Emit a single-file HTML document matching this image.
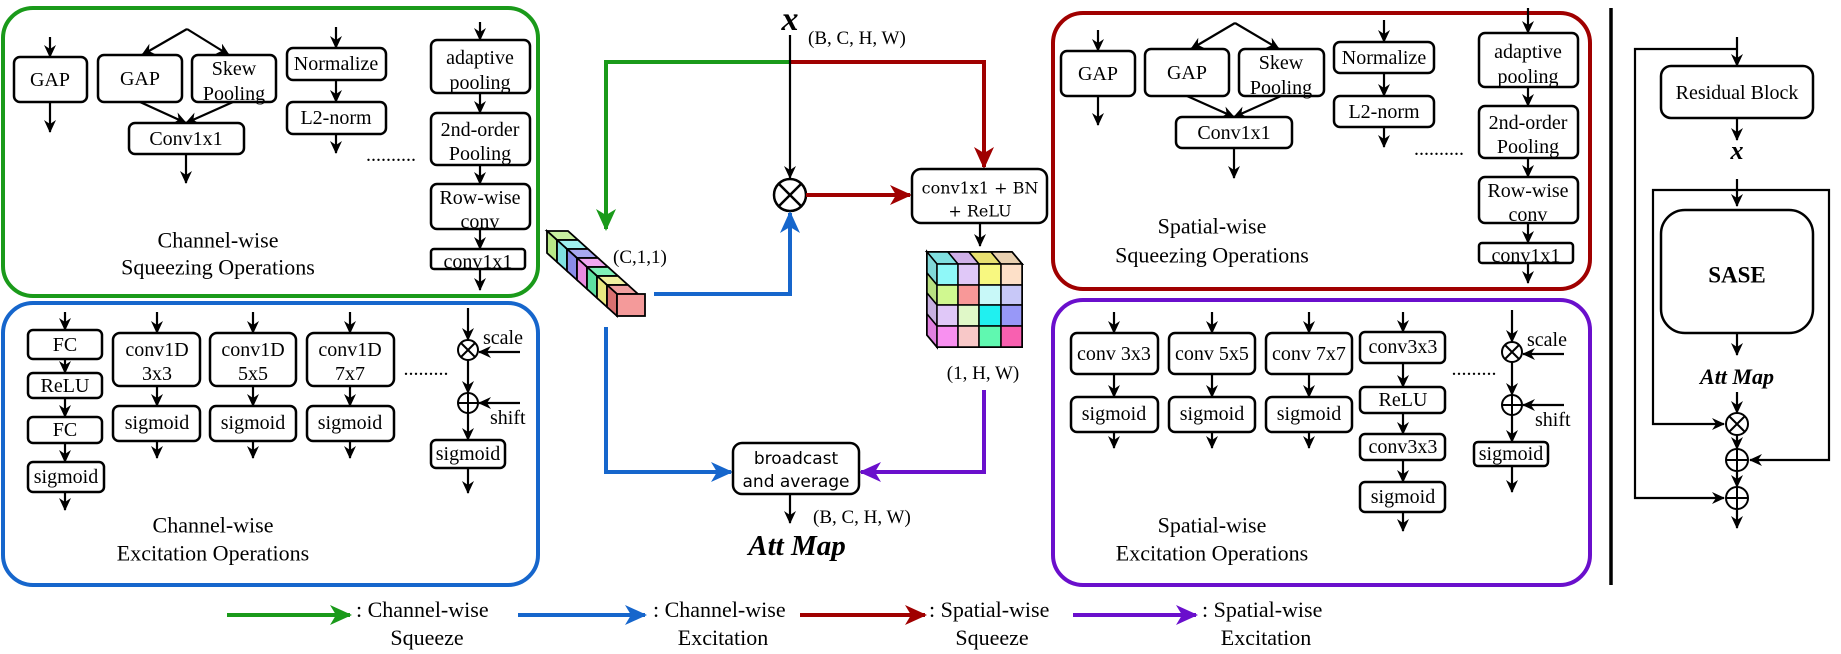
<!DOCTYPE html>
<html><head><meta charset="utf-8"><style>
html,body{margin:0;padding:0;background:#fff;}
svg{display:block;font-family:'Liberation Serif','Times New Roman',serif;}
svg text{font-family:'Liberation Serif','Times New Roman',serif;fill:#000;}
svg text.ds{font-family:'DejaVu Serif',serif;}
svg text.dsa{font-family:'DejaVu Sans',sans-serif;}
.t{font-size:20px;text-anchor:middle;dominant-baseline:central;}
.lab{font-size:22px;text-anchor:middle;dominant-baseline:central;}
.b{fill:#fff;stroke:#000;stroke-width:2.5;}
.a{stroke:#000;stroke-width:2.2;fill:none;marker-end:url(#ak);}
.l{stroke:#000;stroke-width:2.2;fill:none;}
.dots{font-size:20px;text-anchor:middle;}
</style></head><body>
<svg width="1841" height="654" viewBox="0 0 1841 654" xmlns="http://www.w3.org/2000/svg" font-family="Liberation Serif, serif">
<defs>
<marker id="ak" markerUnits="userSpaceOnUse" markerWidth="14" markerHeight="14" refX="12" refY="6" orient="auto"><path d="M0,0 L13,6 L0,12 L4,6 z" fill="#000"/></marker>
<marker id="ag" markerUnits="userSpaceOnUse" markerWidth="24" markerHeight="24" refX="20" refY="10" orient="auto"><path d="M0,0 L22,10 L0,20 L6,10 z" fill="#1a9a1a"/></marker>
<marker id="ab" markerUnits="userSpaceOnUse" markerWidth="24" markerHeight="24" refX="20" refY="10" orient="auto"><path d="M0,0 L22,10 L0,20 L6,10 z" fill="#1666cc"/></marker>
<marker id="ar" markerUnits="userSpaceOnUse" markerWidth="24" markerHeight="24" refX="20" refY="10" orient="auto"><path d="M0,0 L22,10 L0,20 L6,10 z" fill="#a00000"/></marker>
<marker id="ap" markerUnits="userSpaceOnUse" markerWidth="24" markerHeight="24" refX="20" refY="10" orient="auto"><path d="M0,0 L22,10 L0,20 L6,10 z" fill="#6a0fcc"/></marker>
</defs>

<!-- ===== Green panel ===== -->
<rect x="3" y="8" width="535" height="288" rx="30" fill="none" stroke="#1a9a1a" stroke-width="4"/>
<line class="a" x1="50" y1="37" x2="50" y2="57"/>
<rect class="b" x="14" y="57" width="73" height="45" rx="6"/><text class="t" x="50" y="80">GAP</text>
<line class="a" x1="50" y1="102" x2="50" y2="132"/>
<line class="a" x1="187" y1="29" x2="142" y2="55"/><line class="a" x1="187" y1="29" x2="229" y2="55"/>
<rect class="b" x="98" y="55" width="84" height="47" rx="6"/><text class="t" x="140" y="79">GAP</text>
<rect class="b" x="192" y="55" width="84" height="47" rx="6"/><text class="t" x="234" y="69">Skew</text><text class="t" x="234" y="94">Pooling</text>
<line class="a" x1="140" y1="102" x2="186" y2="123"/><line class="a" x1="233" y1="102" x2="186" y2="123"/>
<rect class="b" x="129" y="123" width="115" height="31" rx="6"/><text class="t" x="186" y="139">Conv1x1</text>
<line class="a" x1="186" y1="154" x2="186" y2="183"/>
<line class="a" x1="336" y1="27" x2="336" y2="48"/>
<rect class="b" x="287" y="48" width="99" height="32" rx="6"/><text class="t" x="336" y="64">Normalize</text>
<line class="a" x1="336" y1="80" x2="336" y2="102"/>
<rect class="b" x="287" y="102" width="99" height="32" rx="6"/><text class="t" x="336" y="118">L2-norm</text>
<line class="a" x1="336" y1="134" x2="336" y2="153"/>
<text class="dots" x="391" y="161">..........</text>
<line class="a" x1="480" y1="22" x2="480" y2="40"/>
<rect class="b" x="431" y="40" width="99" height="53" rx="6"/><text class="t" x="480" y="58">adaptive</text><text class="t" x="480" y="83">pooling</text>
<line class="a" x1="480" y1="93" x2="480" y2="113"/>
<rect class="b" x="431" y="113" width="99" height="52" rx="6"/><text class="t" x="480" y="130">2nd-order</text><text class="t" x="480" y="154">Pooling</text>
<line class="a" x1="480" y1="165" x2="480" y2="184"/>
<rect class="b" x="431" y="184" width="99" height="45" rx="6"/><text class="t" x="480" y="198">Row-wise</text><text class="t" x="480" y="222">conv</text>
<line class="a" x1="480" y1="229" x2="480" y2="249"/>
<rect class="b" x="431" y="249" width="94" height="20" rx="3"/><text class="t" x="478" y="262">conv1x1</text>
<line class="a" x1="480" y1="269" x2="480" y2="290"/>
<text class="lab" x="218" y="240">Channel-wise</text><text class="lab" x="218" y="267">Squeezing Operations</text>

<!-- ===== Blue panel ===== -->
<rect x="3" y="303" width="535" height="282" rx="30" fill="none" stroke="#1666cc" stroke-width="4"/>
<line class="a" x1="65" y1="312" x2="65" y2="330"/>
<rect class="b" x="28" y="330" width="74" height="29" rx="5"/><text class="t" x="65" y="345">FC</text>
<line class="a" x1="65" y1="359" x2="65" y2="373"/>
<rect class="b" x="28" y="373" width="74" height="25" rx="5"/><text class="t" x="65" y="386">ReLU</text>
<line class="a" x1="65" y1="398" x2="65" y2="417"/>
<rect class="b" x="28" y="417" width="74" height="26" rx="5"/><text class="t" x="65" y="430">FC</text>
<line class="a" x1="65" y1="443" x2="65" y2="462"/>
<rect class="b" x="28" y="462" width="76" height="30" rx="5"/><text class="t" x="66" y="477">sigmoid</text>
<line class="a" x1="65" y1="492" x2="65" y2="510"/>
<g>
<line class="a" x1="157" y1="312" x2="157" y2="333"/>
<rect class="b" x="113" y="333" width="87" height="53" rx="7"/><text class="t" x="157" y="350">conv1D</text><text class="t" x="157" y="374">3x3</text>
<line class="a" x1="157" y1="386" x2="157" y2="406"/>
<rect class="b" x="113" y="406" width="87" height="35" rx="6"/><text class="t" x="157" y="423">sigmoid</text>
<line class="a" x1="157" y1="441" x2="157" y2="458"/>
<line class="a" x1="253" y1="312" x2="253" y2="333"/>
<rect class="b" x="210" y="333" width="86" height="53" rx="7"/><text class="t" x="253" y="350">conv1D</text><text class="t" x="253" y="374">5x5</text>
<line class="a" x1="253" y1="386" x2="253" y2="406"/>
<rect class="b" x="210" y="406" width="86" height="35" rx="6"/><text class="t" x="253" y="423">sigmoid</text>
<line class="a" x1="253" y1="441" x2="253" y2="458"/>
<line class="a" x1="350" y1="312" x2="350" y2="333"/>
<rect class="b" x="307" y="333" width="87" height="53" rx="7"/><text class="t" x="350" y="350">conv1D</text><text class="t" x="350" y="374">7x7</text>
<line class="a" x1="350" y1="386" x2="350" y2="406"/>
<rect class="b" x="307" y="406" width="87" height="35" rx="6"/><text class="t" x="350" y="423">sigmoid</text>
<line class="a" x1="350" y1="441" x2="350" y2="458"/>
</g>
<text class="dots" x="426" y="375">.........</text>
<line class="a" x1="468" y1="308" x2="468" y2="340"/>
<circle cx="468" cy="350" r="10" fill="#fff" stroke="#000" stroke-width="2"/><path d="M461,343 L475,357 M475,343 L461,357" stroke="#000" stroke-width="2"/>
<line class="a" x1="468" y1="360" x2="468" y2="393"/>
<circle cx="468" cy="403" r="10" fill="#fff" stroke="#000" stroke-width="2"/><path d="M458,403 H478 M468,393 V413" stroke="#000" stroke-width="2"/>
<line class="a" x1="468" y1="413" x2="468" y2="440"/>
<rect class="b" x="431" y="440" width="74" height="28" rx="5"/><text class="t" x="468" y="454">sigmoid</text>
<line class="a" x1="468" y1="468" x2="468" y2="493"/>
<line class="a" x1="520" y1="352" x2="479" y2="352"/><text x="483" y="344" font-size="20">scale</text>
<line class="a" x1="520" y1="403" x2="479" y2="403"/><text x="490" y="424" font-size="20">shift</text>
<text class="lab" x="213" y="525">Channel-wise</text><text class="lab" x="213" y="553">Excitation Operations</text>

<!-- ===== Center ===== -->
<text x="790" y="30" font-size="34" font-weight="bold" font-style="italic" text-anchor="middle">x</text>
<text x="808" y="44" font-size="19">(B, C, H, W)</text>
<path d="M790,62 H606 V229" stroke="#1a9a1a" stroke-width="4" fill="none" marker-end="url(#ag)"/>
<path d="M790,62 H984 V167" stroke="#a00000" stroke-width="4" fill="none" marker-end="url(#ar)"/>
<line class="a" x1="790" y1="35" x2="790" y2="178"/>
<circle cx="790" cy="195" r="16" fill="#fff" stroke="#000" stroke-width="2.5"/><path d="M779,184 L801,206 M801,184 L779,206" stroke="#000" stroke-width="2.5"/>
<path d="M806,195 H910" stroke="#a00000" stroke-width="4" fill="none" marker-end="url(#ar)"/>
<rect class="b" x="912" y="169" width="135" height="54" rx="9"/>
<text class="ds" x="980" y="188" font-size="16" text-anchor="middle" dominant-baseline="central">conv1x1 + BN</text>
<text class="ds" x="980" y="211" font-size="16" text-anchor="middle" dominant-baseline="central">+ ReLU</text>
<line class="a" x1="980" y1="223" x2="980" y2="246"/>
<!-- cube grid -->
<g stroke="#000" stroke-width="2">
<polygon points="927,252 1012,252 1022,264 937,264" fill="#e0d0e8"/>
<polygon points="927,252 937,264 937,347 927,335" fill="#d0b0e0"/>
<rect x="937" y="264" width="85" height="83" fill="#fff"/>
</g>
<g stroke="#000" stroke-width="1.5">
<polygon points="927,252 948,252 958,264 937,264" fill="#80e0e0"/>
<polygon points="948,252 969,252 979,264 958,264" fill="#d0b0e8"/>
<polygon points="969,252 991,252 1001,264 979,264" fill="#e8e070"/>
<polygon points="991,252 1012,252 1022,264 1001,264" fill="#e8d0b0"/>
<polygon points="927,252 937,264 937,285 927,273" fill="#80d8d8"/>
<polygon points="927,273 937,285 937,305 927,293" fill="#b8e080"/>
<polygon points="927,293 937,305 937,326 927,314" fill="#c8b0e0"/>
<polygon points="927,314 937,326 937,347 927,335" fill="#e080e0"/>
<rect x="937" y="264" width="21" height="21" fill="#8ff8f8"/><rect x="958" y="264" width="21" height="21" fill="#e0c8f8"/><rect x="979" y="264" width="22" height="21" fill="#f8f880"/><rect x="1001" y="264" width="21" height="21" fill="#fde0c8"/>
<rect x="937" y="285" width="21" height="20" fill="#d0f890"/><rect x="958" y="285" width="21" height="20" fill="#f89898"/><rect x="979" y="285" width="22" height="20" fill="#c8f8f8"/><rect x="1001" y="285" width="21" height="20" fill="#c8c8f8"/>
<rect x="937" y="305" width="21" height="21" fill="#e0c8f8"/><rect x="958" y="305" width="21" height="21" fill="#e0f8c8"/><rect x="979" y="305" width="22" height="21" fill="#20f0f0"/><rect x="1001" y="305" width="21" height="21" fill="#9898f8"/>
<rect x="937" y="326" width="21" height="21" fill="#f890f0"/><rect x="958" y="326" width="21" height="21" fill="#f8c8c8"/><rect x="979" y="326" width="22" height="21" fill="#60f8b0"/><rect x="1001" y="326" width="21" height="21" fill="#f860b0"/>
</g>
<text x="983" y="379" font-size="19" text-anchor="middle">(1, H, W)</text>
<path d="M984,390 V472 H861" stroke="#6a0fcc" stroke-width="4" fill="none" marker-end="url(#ap)"/>
<path d="M606,327 V472 H731" stroke="#1666cc" stroke-width="4" fill="none" marker-end="url(#ab)"/>
<path d="M654,294 H790 V213" stroke="#1666cc" stroke-width="4" fill="none" marker-end="url(#ab)"/>
<rect class="b" x="733" y="443" width="126" height="51" rx="9"/>
<text class="dsa" x="796" y="459" font-size="17" text-anchor="middle" dominant-baseline="central">broadcast</text>
<text class="dsa" x="796" y="482" font-size="17" text-anchor="middle" dominant-baseline="central">and average</text>
<line class="a" x1="790" y1="494" x2="790" y2="523"/>
<text x="813" y="523" font-size="19">(B, C, H, W)</text>
<text x="797" y="555" font-size="29" font-weight="bold" font-style="italic" text-anchor="middle">Att Map</text>
<!-- bar of cubes -->
<g stroke="#000" stroke-width="1.8">
<g transform="translate(0,0)"><polygon points="547,231 568,231 578,240 557,240" fill="#c8f0a0"/><polygon points="547,231 557,240 557,262 547,253" fill="#b8e986"/></g>
<g transform="translate(10,9)"><polygon points="547,231 568,231 578,240 557,240" fill="#a0f0f0"/><polygon points="547,231 557,240 557,262 547,253" fill="#7fe0e0"/></g>
<g transform="translate(20,18)"><polygon points="547,231 568,231 578,240 557,240" fill="#a8a8f0"/><polygon points="547,231 557,240 557,262 547,253" fill="#8b8be8"/></g>
<g transform="translate(30,27)"><polygon points="547,231 568,231 578,240 557,240" fill="#f0a8f0"/><polygon points="547,231 557,240 557,262 547,253" fill="#e88be0"/></g>
<g transform="translate(40,36)"><polygon points="547,231 568,231 578,240 557,240" fill="#80f0b8"/><polygon points="547,231 557,240 557,262 547,253" fill="#5ee0a0"/></g>
<g transform="translate(50,45)"><polygon points="547,231 568,231 578,240 557,240" fill="#f0f0a0"/><polygon points="547,231 557,240 557,262 547,253" fill="#e8e880"/></g>
<g transform="translate(60,54)"><polygon points="547,231 568,231 578,240 557,240" fill="#f0a0a0"/><polygon points="547,231 557,240 557,262 547,253" fill="#d87070"/><rect x="557" y="240" width="28" height="22" fill="#f49a9a"/></g>
</g>
<text x="613" y="263" font-size="19">(C,1,1)</text>

<!-- ===== Red panel ===== -->
<rect x="1053" y="13" width="537" height="276" rx="30" fill="none" stroke="#a00000" stroke-width="4"/>
<line class="a" x1="1098" y1="30" x2="1098" y2="51"/>
<rect class="b" x="1061" y="51" width="74" height="45" rx="6"/><text class="t" x="1098" y="74">GAP</text>
<line class="a" x1="1098" y1="96" x2="1098" y2="125"/>
<line class="a" x1="1235" y1="23" x2="1191" y2="49"/><line class="a" x1="1235" y1="23" x2="1279" y2="49"/>
<rect class="b" x="1145" y="49" width="84" height="47" rx="6"/><text class="t" x="1187" y="73">GAP</text>
<rect class="b" x="1239" y="49" width="85" height="47" rx="6"/><text class="t" x="1281" y="63">Skew</text><text class="t" x="1281" y="88">Pooling</text>
<line class="a" x1="1187" y1="96" x2="1234" y2="117"/><line class="a" x1="1281" y1="96" x2="1234" y2="117"/>
<rect class="b" x="1176" y="117" width="116" height="31" rx="6"/><text class="t" x="1234" y="133">Conv1x1</text>
<line class="a" x1="1234" y1="148" x2="1234" y2="178"/>
<line class="a" x1="1384" y1="20" x2="1384" y2="42"/>
<rect class="b" x="1334" y="42" width="100" height="31" rx="6"/><text class="t" x="1384" y="58">Normalize</text>
<line class="a" x1="1384" y1="73" x2="1384" y2="96"/>
<rect class="b" x="1334" y="96" width="100" height="31" rx="6"/><text class="t" x="1384" y="112">L2-norm</text>
<line class="a" x1="1384" y1="127" x2="1384" y2="147"/>
<text class="dots" x="1439" y="155">..........</text>
<line class="a" x1="1528" y1="8" x2="1528" y2="33"/>
<rect class="b" x="1479" y="33" width="99" height="54" rx="6"/><text class="t" x="1528" y="52">adaptive</text><text class="t" x="1528" y="77">pooling</text>
<line class="a" x1="1528" y1="87" x2="1528" y2="106"/>
<rect class="b" x="1479" y="106" width="99" height="52" rx="6"/><text class="t" x="1528" y="123">2nd-order</text><text class="t" x="1528" y="147">Pooling</text>
<line class="a" x1="1528" y1="158" x2="1528" y2="177"/>
<rect class="b" x="1479" y="177" width="99" height="46" rx="6"/><text class="t" x="1528" y="191">Row-wise</text><text class="t" x="1528" y="215">conv</text>
<line class="a" x1="1528" y1="223" x2="1528" y2="243"/>
<rect class="b" x="1479" y="243" width="94" height="20" rx="3"/><text class="t" x="1526" y="256">conv1x1</text>
<line class="a" x1="1528" y1="263" x2="1528" y2="283"/>
<text class="lab" x="1212" y="226">Spatial-wise</text><text class="lab" x="1212" y="255">Squeezing Operations</text>

<!-- ===== Purple panel ===== -->
<rect x="1053" y="300" width="537" height="285" rx="30" fill="none" stroke="#6a0fcc" stroke-width="4"/>
<line class="a" x1="1114" y1="312" x2="1114" y2="333"/>
<rect class="b" x="1071" y="333" width="87" height="41" rx="6"/><text class="t" x="1114" y="354">conv 3x3</text>
<line class="a" x1="1114" y1="374" x2="1114" y2="397"/>
<rect class="b" x="1071" y="397" width="87" height="35" rx="6"/><text class="t" x="1114" y="414">sigmoid</text>
<line class="a" x1="1114" y1="432" x2="1114" y2="448"/>
<line class="a" x1="1212" y1="312" x2="1212" y2="333"/>
<rect class="b" x="1169" y="333" width="86" height="41" rx="6"/><text class="t" x="1212" y="354">conv 5x5</text>
<line class="a" x1="1212" y1="374" x2="1212" y2="397"/>
<rect class="b" x="1169" y="397" width="86" height="35" rx="6"/><text class="t" x="1212" y="414">sigmoid</text>
<line class="a" x1="1212" y1="432" x2="1212" y2="448"/>
<line class="a" x1="1309" y1="312" x2="1309" y2="333"/>
<rect class="b" x="1266" y="333" width="86" height="41" rx="6"/><text class="t" x="1309" y="354">conv 7x7</text>
<line class="a" x1="1309" y1="374" x2="1309" y2="397"/>
<rect class="b" x="1266" y="397" width="86" height="35" rx="6"/><text class="t" x="1309" y="414">sigmoid</text>
<line class="a" x1="1309" y1="432" x2="1309" y2="448"/>
<line class="a" x1="1403" y1="312" x2="1403" y2="332"/>
<rect class="b" x="1360" y="332" width="85" height="31" rx="5"/><text class="t" x="1403" y="347">conv3x3</text>
<line class="a" x1="1403" y1="363" x2="1403" y2="387"/>
<rect class="b" x="1360" y="387" width="85" height="26" rx="5"/><text class="t" x="1403" y="400">ReLU</text>
<line class="a" x1="1403" y1="413" x2="1403" y2="434"/>
<rect class="b" x="1360" y="434" width="85" height="26" rx="5"/><text class="t" x="1403" y="447">conv3x3</text>
<line class="a" x1="1403" y1="460" x2="1403" y2="482"/>
<rect class="b" x="1360" y="482" width="85" height="30" rx="5"/><text class="t" x="1403" y="497">sigmoid</text>
<line class="a" x1="1403" y1="512" x2="1403" y2="531"/>
<text class="dots" x="1474" y="375">.........</text>
<line class="a" x1="1512" y1="310" x2="1512" y2="342"/>
<circle cx="1512" cy="352" r="10" fill="#fff" stroke="#000" stroke-width="2"/><path d="M1505,345 L1519,359 M1519,345 L1505,359" stroke="#000" stroke-width="2"/>
<line class="a" x1="1512" y1="362" x2="1512" y2="395"/>
<circle cx="1512" cy="405" r="10" fill="#fff" stroke="#000" stroke-width="2"/><path d="M1502,405 H1522 M1512,395 V415" stroke="#000" stroke-width="2"/>
<line class="a" x1="1512" y1="415" x2="1512" y2="442"/>
<rect class="b" x="1474" y="442" width="74" height="24" rx="4"/><text class="t" x="1511" y="454">sigmoid</text>
<line class="a" x1="1512" y1="466" x2="1512" y2="492"/>
<line class="a" x1="1564" y1="354" x2="1523" y2="354"/><text x="1527" y="346" font-size="20">scale</text>
<line class="a" x1="1564" y1="405" x2="1523" y2="405"/><text x="1535" y="426" font-size="20">shift</text>
<text class="lab" x="1212" y="525">Spatial-wise</text><text class="lab" x="1212" y="553">Excitation Operations</text>

<!-- ===== Legend ===== -->
<line x1="227" y1="615" x2="350" y2="615" stroke="#1a9a1a" stroke-width="4" marker-end="url(#ag)"/>
<text x="356" y="617" font-size="22">: Channel-wise</text><text x="427" y="645" font-size="22" text-anchor="middle">Squeeze</text>
<line x1="518" y1="615" x2="645" y2="615" stroke="#1666cc" stroke-width="4" marker-end="url(#ab)"/>
<text x="653" y="617" font-size="22">: Channel-wise</text><text x="723" y="645" font-size="22" text-anchor="middle">Excitation</text>
<line x1="800" y1="615" x2="925" y2="615" stroke="#a00000" stroke-width="4" marker-end="url(#ar)"/>
<text x="929" y="617" font-size="22">: Spatial-wise</text><text x="992" y="645" font-size="22" text-anchor="middle">Squeeze</text>
<line x1="1073" y1="615" x2="1196" y2="615" stroke="#6a0fcc" stroke-width="4" marker-end="url(#ap)"/>
<text x="1202" y="617" font-size="22">: Spatial-wise</text><text x="1266" y="645" font-size="22" text-anchor="middle">Excitation</text>

<!-- ===== Right panel ===== -->
<line x1="1611" y1="8" x2="1611" y2="585" stroke="#000" stroke-width="3.5"/>
<path class="l" d="M1737,49 H1635 V498 H1724" marker-end="url(#ak)"/>
<line class="a" x1="1737" y1="37" x2="1737" y2="66"/>
<rect class="b" x="1661" y="66" width="152" height="52" rx="10"/>
<text x="1737" y="93" font-size="20" text-anchor="middle" dominant-baseline="central">Residual Block</text>
<line class="a" x1="1737" y1="118" x2="1737" y2="140"/>
<text x="1737" y="159" font-size="26" font-weight="bold" font-style="italic" text-anchor="middle">x</text>
<line class="a" x1="1737" y1="179" x2="1737" y2="206"/>
<path class="l" d="M1737,190 H1653 V424 H1724" marker-end="url(#ak)"/>
<path class="l" d="M1737,190 H1829 V460 H1750" marker-end="url(#ak)"/>
<rect class="b" x="1661" y="210" width="152" height="123" rx="24"/>
<text x="1737" y="275" font-size="23" font-weight="bold" text-anchor="middle" dominant-baseline="central">SASE</text>
<line class="a" x1="1737" y1="333" x2="1737" y2="355"/>
<text x="1737" y="384" font-size="22" font-weight="bold" font-style="italic" text-anchor="middle">Att Map</text>
<line class="a" x1="1737" y1="392" x2="1737" y2="413"/>
<circle cx="1737" cy="424" r="11" fill="#fff" stroke="#000" stroke-width="2"/><path d="M1729,416 L1745,432 M1745,416 L1729,432" stroke="#000" stroke-width="2"/>
<line class="a" x1="1737" y1="435" x2="1737" y2="449"/>
<circle cx="1737" cy="460" r="11" fill="#fff" stroke="#000" stroke-width="2"/><path d="M1726,460 H1748 M1737,449 V471" stroke="#000" stroke-width="2"/>
<line class="a" x1="1737" y1="471" x2="1737" y2="487"/>
<circle cx="1737" cy="498" r="11" fill="#fff" stroke="#000" stroke-width="2"/><path d="M1726,498 H1748 M1737,487 V509" stroke="#000" stroke-width="2"/>
<line class="a" x1="1737" y1="509" x2="1737" y2="528"/>
</svg>
</body></html>
